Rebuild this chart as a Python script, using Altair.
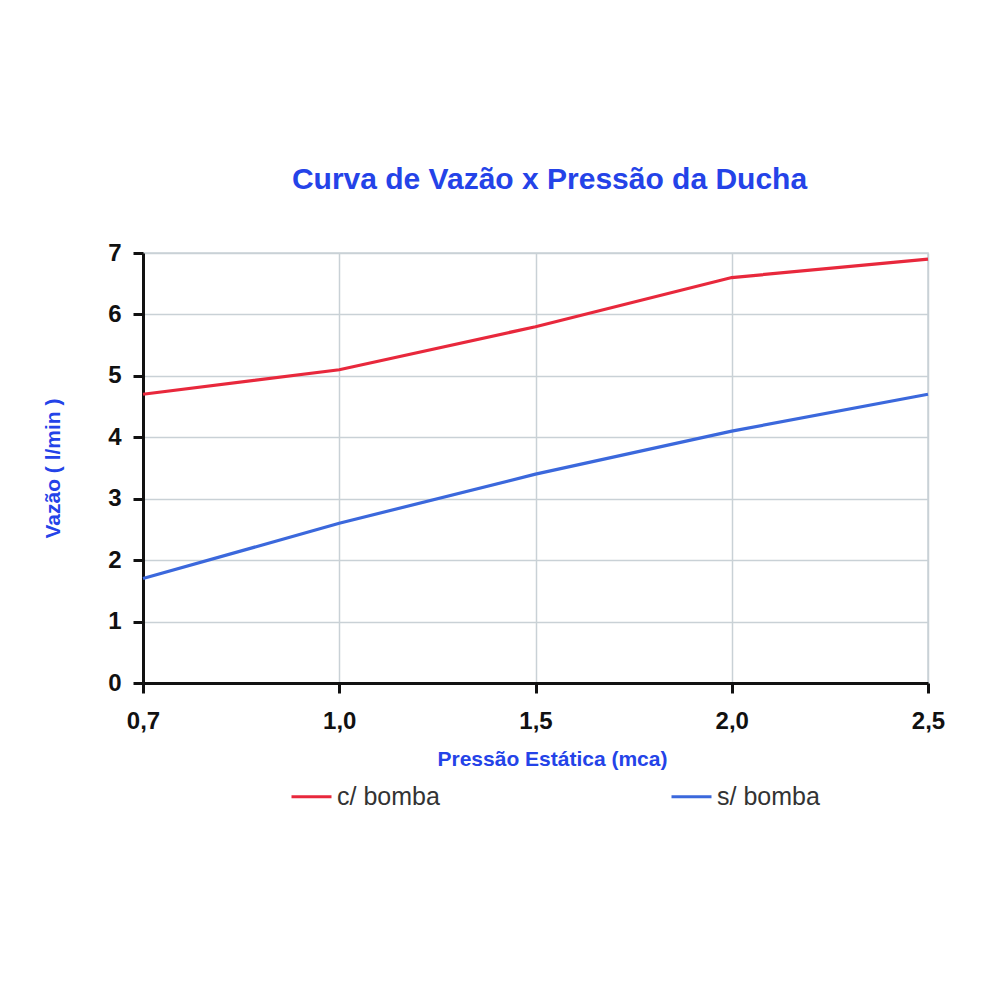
import altair as alt
import pandas as pd

# Values
pressao = ["0,7", "1,0", "1,5", "2,0", "2,5"]
com_bomba = [4.7, 5.1, 5.8, 6.6, 6.9]
sem_bomba = [1.7, 2.6, 3.4, 4.1, 4.7]
series = ["c/ bomba", "s/ bomba"]
cores = ["#e8283c", "#3b68dc"]

df = pd.concat(
    [
        pd.DataFrame({"Pressao": pressao, "Vazao": com_bomba, "Serie": series[0]}),
        pd.DataFrame({"Pressao": pressao, "Vazao": sem_bomba, "Serie": series[1]}),
    ]
)

azul = "#2443e8"

chart = (
    alt.Chart(df)
    .mark_line(strokeWidth=3.2)
    .encode(
        x=alt.X(
            "Pressao:O",
            sort=pressao,
            scale=alt.Scale(type="point", padding=0),
            axis=alt.Axis(
                title="Pressão Estática (mca)",
                titleColor=azul,
                titleFontSize=21,
                titleFont="Liberation Sans",
                titleFontWeight="bold",
                titlePadding=15,
                titleX=409,
                labelAngle=0,
                labelFont="Liberation Sans",
                labelFontSize=24,
                labelFontWeight="bold",
                labelColor="#111",
                labelPadding=16,
                domainColor="#111",
                domainWidth=3,
                tickColor="#111",
                tickWidth=3,
                tickSize=10,
                grid=True,
                gridColor="#c9d1d6",
                gridWidth=1.5,
            ),
        ),
        y=alt.Y(
            "Vazao:Q",
            scale=alt.Scale(domain=[0, 7], nice=False),
            axis=alt.Axis(
                title="Vazão ( l/min )",
                titleColor=azul,
                titleFontSize=21,
                titleFont="Liberation Sans",
                titleFontWeight="bold",
                titlePadding=44,
                values=[0, 1, 2, 3, 4, 5, 6, 7],
                labelFont="Liberation Sans",
                labelFontSize=24,
                labelFontWeight="bold",
                labelColor="#111",
                labelPadding=12,
                domainColor="#111",
                domainWidth=3,
                tickColor="#111",
                tickWidth=3,
                tickSize=10,
                gridColor="#c9d1d6",
                gridWidth=1.5,
            ),
        ),
        color=alt.Color(
            "Serie:N",
            scale=alt.Scale(domain=series, range=cores),
            legend=alt.Legend(
                title=None,
                orient="none",
                legendX=147,
                legendY=522,
                direction="horizontal",
                symbolType="stroke",
                symbolSize=1600,
                symbolStrokeWidth=3,
                labelFont="Liberation Sans",
                labelFontSize=25,
                labelColor="#333",
                columnPadding=225,
            ),
        ),
    )
    .properties(
        width=785,
        height=430,
        title=alt.TitleParams(
            "Curva de Vazão x Pressão da Ducha",
            font="Liberation Sans",
            fontSize=30,
            fontWeight="bold",
            color=azul,
            anchor="middle",
            dx=14,
            offset=46,
        ),
        autosize=alt.AutoSizeParams(type="none"),
        padding={"left": 135, "top": 245, "right": 50, "bottom": 150},
    )
    .configure_view(stroke="#c9d1d6", strokeWidth=1.5)
)

chart.save("out.html", embed_options={"renderer": "svg", "actions": False})
